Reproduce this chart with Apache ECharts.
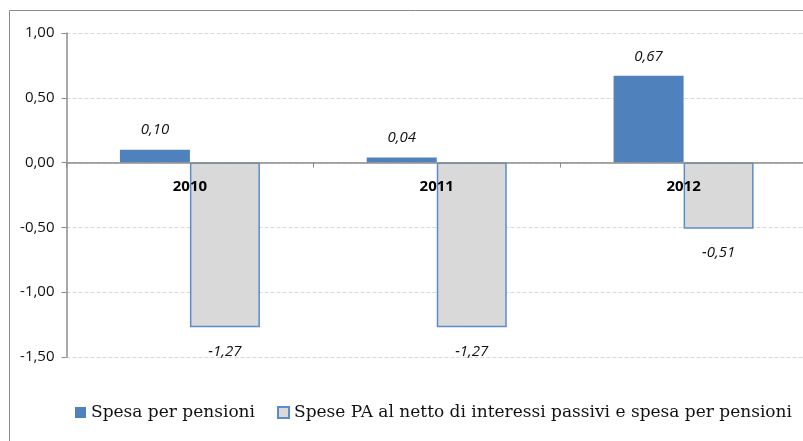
<!DOCTYPE html>
<html>
<head>
<meta charset="utf-8">
<script src="https://cdn.jsdelivr.net/npm/echarts@6/dist/echarts.min.js"></script>
<style>
  html, body { margin: 0; padding: 0; background: #fff; overflow: hidden; }
  #main { width: 820px; height: 441px; }
</style>
</head>
<body>
<div id="main"></div>
<script>
// dati
var anni = ['2010', '2011', '2012'];
var spesaPensioni = [0.10, 0.04, 0.67];
var spesePA = [-1.27, -1.27, -0.51];
var nomiSerie = ['Spesa per pensioni', 'Spese PA al netto di interessi passivi e spesa per pensioni'];

function virgola(v) {
  return v.toFixed(2).replace('.', ',');
}

var myChart = echarts.init(document.getElementById('main'));
myChart.setOption({
  animation: false,
  graphic: [{
    type: 'rect',
    shape: { x: 9.5, y: 10.5, width: 900, height: 500 },
    style: { fill: 'none', stroke: '#8c8c8c', lineWidth: 1 }
  }],
  grid: { left: 66.5, right: 13, top: 33, bottom: 84 },
  legend: {
    left: 70,
    top: 399,
    itemWidth: 11,
    itemHeight: 11,
    itemGap: 22,
    icon: 'rect',
    textStyle: { fontFamily: 'DejaVu Serif', fontSize: 17, color: '#111' },
    data: nomiSerie
  },
  xAxis: {
    type: 'category',
    data: anni,
    z: 5,
    axisLine: { onZero: true, lineStyle: { color: '#8c8c8c', width: 1.5 } },
    axisTick: { show: true, length: 5, lineStyle: { color: '#8c8c8c' } },
    // etichette vicino alla linea dello zero
    axisLabel: { margin: -178, fontWeight: 'bold', fontSize: 15, color: '#000', fontFamily: 'Open Sans' }
  },
  yAxis: {
    type: 'value',
    min: -1.5,
    max: 1,
    interval: 0.5,
    axisLine: { show: true, lineStyle: { color: '#8c8c8c', width: 1.5 } },
    axisTick: { show: true, length: 5, lineStyle: { color: '#8c8c8c' } },
    axisLabel: { formatter: virgola, fontSize: 15, color: '#111', fontFamily: 'Open Sans', margin: 12 },
    splitLine: { lineStyle: { color: '#d9d9d9', type: 'dashed' } }
  },
  series: [
    {
      name: nomiSerie[0],
      type: 'bar',
      data: spesaPensioni,
      barWidth: 70,
      barGap: '0%',
      itemStyle: { color: '#4f81bd' },
      label: {
        show: true, position: 'top', distance: 12,
        formatter: function (p) { return virgola(p.value); },
        fontStyle: 'italic', fontSize: 15, color: '#111', fontFamily: 'Open Sans'
      }
    },
    {
      name: nomiSerie[1],
      type: 'bar',
      data: spesePA,
      barWidth: 70,
      itemStyle: { color: '#d9d9d9', borderColor: '#5b8ccc', borderWidth: 1.5 },
      label: {
        show: true, position: 'bottom', distance: 17,
        formatter: function (p) { return virgola(p.value); },
        fontStyle: 'italic', fontSize: 15, color: '#111', fontFamily: 'Open Sans'
      }
    }
  ]
});
</script>
</body>
</html>
